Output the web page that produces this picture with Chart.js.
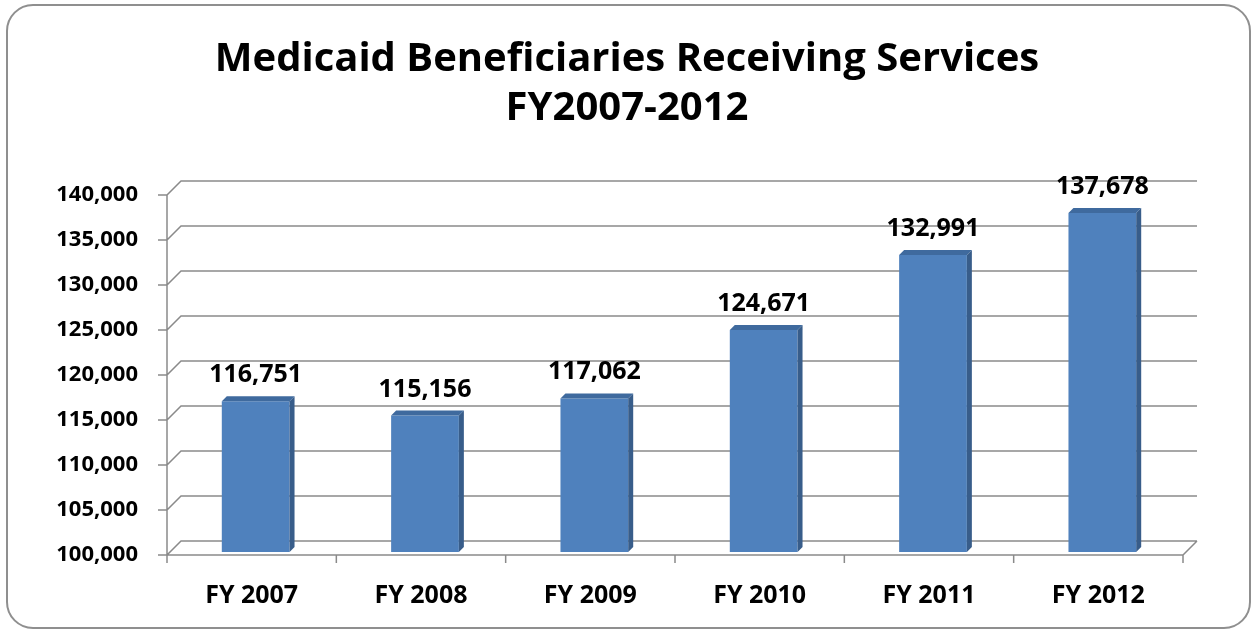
<!DOCTYPE html>
<html>
<head>
<meta charset="utf-8">
<title>Medicaid Beneficiaries Receiving Services</title>
<script src="https://cdn.jsdelivr.net/npm/chart.js@4.4.1/dist/chart.umd.min.js"></script>
<style>
  html, body { margin: 0; padding: 0; background: #ffffff; }
  canvas { display: block; }
</style>
</head>
<body>
<canvas id="beneficiariesChart" width="1254" height="630"></canvas>
<script>
const categories = ['FY 2007', 'FY 2008', 'FY 2009', 'FY 2010', 'FY 2011', 'FY 2012'];
const beneficiaries = [116751, 115156, 117062, 124671, 132991, 137678];
const yTickValues = [100000, 105000, 110000, 115000, 120000, 125000, 130000, 135000, 140000];
const titleLines = ['Medicaid Beneficiaries Receiving Services', 'FY2007-2012'];

// fake 3d look (excel style)
const WALL_DX = 14, WALL_DY = -14;
const BAR_DX = 5, BAR_DY = -5;
const SHIFT_X = 4, SHIFT_Y = -3;
const GRID_COLOR = '#8a8a8a';

function fmt(v) {
    return v.toLocaleString('en-US');
}

function roundRect(ctx, x, y, w, h, r) {
    ctx.beginPath();
    ctx.moveTo(x + r, y);
    ctx.lineTo(x + w - r, y);
    ctx.arcTo(x + w, y, x + w, y + r, r);
    ctx.lineTo(x + w, y + h - r);
    ctx.arcTo(x + w, y + h, x + w - r, y + h, r);
    ctx.lineTo(x + r, y + h);
    ctx.arcTo(x, y + h, x, y + h - r, r);
    ctx.lineTo(x, y + r);
    ctx.arcTo(x, y, x + r, y, r);
    ctx.closePath();
}

const depthPlugin = {
    id: 'depth3d',
    beforeDraw: function(chart) {
        const ctx = chart.ctx;
        ctx.save();
        ctx.fillStyle = '#ffffff';
        ctx.fillRect(0, 0, chart.width, chart.height);
        roundRect(ctx, 7, 5, 1243, 623, 26);
        ctx.lineWidth = 2;
        ctx.strokeStyle = '#8f8f8f';
        ctx.stroke();
        ctx.restore();
    },
    beforeDatasetsDraw: function(chart) {
        const ctx = chart.ctx;
        const a = chart.chartArea;
        const y = chart.scales.y;
        ctx.save();
        ctx.strokeStyle = GRID_COLOR;
        ctx.lineWidth = 1.5;
        ctx.beginPath();
        yTickValues.forEach(function(v) {
            const py = y.getPixelForValue(v);
            ctx.moveTo(a.left - 9, py);
            ctx.lineTo(a.left, py);
            ctx.lineTo(a.left + WALL_DX, py + WALL_DY);
            ctx.lineTo(a.right + WALL_DX, py + WALL_DY);
        });
        ctx.moveTo(a.left, a.top);
        ctx.lineTo(a.left, a.bottom + 8);
        ctx.moveTo(a.left, a.bottom);
        ctx.lineTo(a.right, a.bottom);
        ctx.lineTo(a.right + WALL_DX, a.bottom + WALL_DY);
        const step = (a.right - a.left) / categories.length;
        for (let i = 0; i <= categories.length; i++) {
            const px = a.left + i * step;
            ctx.moveTo(px, a.bottom);
            ctx.lineTo(px, a.bottom + 8);
        }
        ctx.stroke();
        ctx.restore();

        // bars sit a bit inside the box
        ctx.save();
        ctx.translate(SHIFT_X, SHIFT_Y);
    },
    afterDatasetsDraw: function(chart) {
        const ctx = chart.ctx;
        const floor = chart.chartArea.bottom;
        const meta = chart.getDatasetMeta(0);
        meta.data.forEach(function(bar) {
            const p = bar.getProps(['x', 'y', 'width'], true);
            const l = p.x - p.width / 2, r = p.x + p.width / 2;
            ctx.fillStyle = '#385D8A';
            ctx.beginPath();
            ctx.moveTo(r, p.y);
            ctx.lineTo(r + BAR_DX, p.y + BAR_DY);
            ctx.lineTo(r + BAR_DX, floor + BAR_DY);
            ctx.lineTo(r, floor);
            ctx.closePath();
            ctx.fill();
            ctx.fillStyle = '#3F6A9E';
            ctx.beginPath();
            ctx.moveTo(l, p.y);
            ctx.lineTo(l + BAR_DX, p.y + BAR_DY);
            ctx.lineTo(r + BAR_DX, p.y + BAR_DY);
            ctx.lineTo(r, p.y);
            ctx.closePath();
            ctx.fill();
        });
        ctx.restore();

        // value labels
        ctx.save();
        ctx.font = 'bold 25px "Open Sans"';
        ctx.fillStyle = '#000000';
        ctx.textAlign = 'center';
        ctx.textBaseline = 'alphabetic';
        meta.data.forEach(function(bar, i) {
            const p = bar.getProps(['x', 'y'], true);
            ctx.fillText(fmt(beneficiaries[i]), p.x + SHIFT_X, p.y + SHIFT_Y - 19);
        });
        ctx.restore();
    }
};

const ctx = document.getElementById('beneficiariesChart').getContext('2d');
new Chart(ctx, {
    type: 'bar',
    data: {
        labels: categories,
        datasets: [{
            label: 'Beneficiaries',
            data: beneficiaries,
            backgroundColor: '#4F81BD',
            borderWidth: 0,
            barPercentage: 0.4,
            categoryPercentage: 1.0
        }]
    },
    options: {
        responsive: false,
        animation: false,
        layout: {
            padding: 0
        },
        plugins: {
            legend: { display: false },
            tooltip: { enabled: false },
            title: {
                display: true,
                text: titleLines,
                color: '#000000',
                font: { family: '"Open Sans"', size: 40, weight: 'bold', lineHeight: 49 / 40 },
                padding: { top: 35, bottom: 62 }
            }
        },
        scales: {
            x: {
                offset: true,
                grid: { display: false, drawTicks: false },
                border: { display: false },
                ticks: {
                    padding: 26,
                    color: '#000000',
                    font: { family: '"Open Sans"', size: 25, weight: 'bold' }
                },
                afterFit: function(scale) { scale.height = 75; }
            },
            y: {
                min: 100000,
                max: 140000,
                grid: { display: false, drawTicks: false },
                border: { display: false },
                afterBuildTicks: function(scale) {
                    scale.ticks = yTickValues.map(function(v) { return { value: v }; });
                },
                ticks: {
                    padding: 29,
                    color: '#000000',
                    font: { family: '"Open Sans"', size: 22, weight: 'bold' },
                    callback: function(v) { return fmt(v); }
                },
                afterFit: function(scale) { scale.width = 167; }
            },
            // empty right-hand spacer so the title stays centred on the page
            spacer: {
                type: 'linear',
                position: 'right',
                grid: { display: false, drawTicks: false },
                border: { display: false },
                ticks: { display: false },
                afterFit: function(scale) { scale.width = 71; }
            }
        }
    },
    plugins: [depthPlugin]
});
</script>
</body>
</html>
